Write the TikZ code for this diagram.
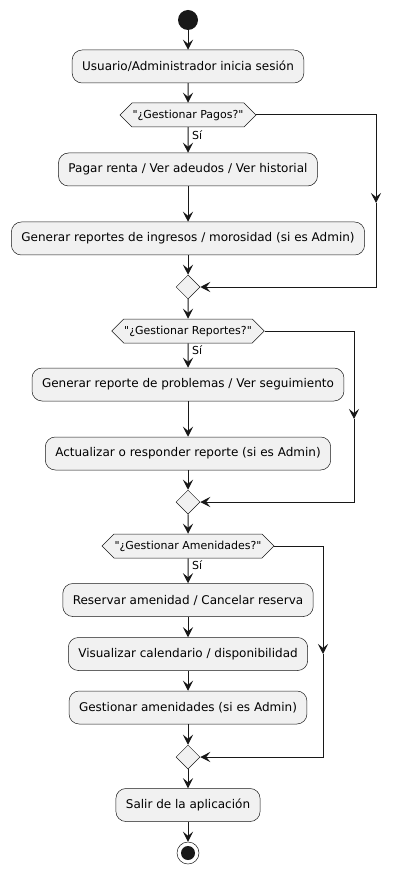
\documentclass[tikz,border=0pt]{standalone}
\usepackage{fontspec}
\newfontfamily\umlfont{DejaVu Sans}
\usetikzlibrary{arrows.meta,shapes.geometric,shapes.symbols}
\definecolor{linecol}{HTML}{181818}
\definecolor{boxfill}{HTML}{F1F1F1}

\begin{document}
\begin{tikzpicture}[x=1pt,y=1pt,
  action/.style={draw=linecol, fill=boxfill, rounded corners=10pt, line width=0.5pt, minimum height=33pt, inner xsep=10pt, font=\umlfont\fontsize{12}{14}\selectfont},
  choice/.style={signal, signal to=west and east, signal pointer angle=90, draw=linecol, fill=boxfill, line width=0.5pt, minimum height=24pt, inner xsep=0.5pt, font=\umlfont\fontsize{11}{13}\selectfont},
  merge/.style={diamond, draw=linecol, fill=boxfill, line width=0.5pt, minimum width=24pt, minimum height=24pt, inner sep=0pt},
  flow/.style={-{Stealth[length=10pt,width=10pt,inset=4pt]}, draw=linecol, line width=1pt},
  yes/.style={font=\umlfont\fontsize{11}{13}\selectfont, inner sep=0pt, anchor=west}
]
\useasboundingbox (0,0) rectangle (400,-874);

\node[circle, fill=linecol, minimum size=20pt, inner sep=0pt] (start) at (188,-20) {};
\node[action] (login) at (188,-66.5) {Usuario/Administrador inicia sesión};

% pagos
\node[choice] (pagos) at (188,-115) {"¿Gestionar Pagos?"};
\node[yes] (si1) at (192,-135) {Sí};
\node[action] (pagar) at (188,-169.5) {Pagar renta / Ver adeudos / Ver historial};
\node[action] (ingresos) at (188,-238.5) {Generar reportes de ingresos / morosidad (si es Admin)};
\node[merge] (m1) at (188,-287) {};
\coordinate (c1) at (376,-203);

% reportes
\node[choice] (reportes) at (188,-331) {"¿Gestionar Reportes?"};
\node[yes] (si2) at (192,-350) {Sí};
\node[action] (problemas) at (188,-384.5) {Generar reporte de problemas / Ver seguimiento};
\node[action] (responder) at (188,-453.5) {Actualizar o responder reporte (si es Admin)};
\node[merge] (m2) at (188,-502) {};
\coordinate (c2) at (354,-419);

% amenidades
\node[choice] (amenidades) at (188,-546) {"¿Gestionar Amenidades?"};
\node[yes] (si3) at (192,-565) {Sí};
\node[action] (reservar) at (188,-600) {Reservar amenidad / Cancelar reserva};
\node[action] (calendario) at (188,-654) {Visualizar calendario / disponibilidad};
\node[action] (gestionar) at (188,-707.5) {Gestionar amenidades (si es Admin)};
\node[merge] (m3) at (188,-757) {};
\coordinate (c3) at (323,-654);

\node[action] (salir) at (188,-805) {Salir de la aplicación};
\node[circle, draw=linecol, line width=0.5pt, fill=white, minimum size=22pt, inner sep=0pt] (stop) at (188,-853) {};
\node[circle, fill=linecol, minimum size=14pt, inner sep=0pt] at (stop) {};

\draw[flow] (start) -- (login);
\draw[flow] (login) -- (pagos);
\draw[flow] (pagos) -- (pagar);
\draw[flow] (pagar) -- (ingresos);
\draw[flow] (ingresos) -- (m1);
\draw[flow] (pagos.east) -| (c1);
\draw[flow] (c1) |- (m1.east);

\draw[flow] (m1) -- (reportes);
\draw[flow] (reportes) -- (problemas);
\draw[flow] (problemas) -- (responder);
\draw[flow] (responder) -- (m2);
\draw[flow] (reportes.east) -| (c2);
\draw[flow] (c2) |- (m2.east);

\draw[flow] (m2) -- (amenidades);
\draw[flow] (amenidades) -- (reservar);
\draw[flow] (reservar) -- (calendario);
\draw[flow] (calendario) -- (gestionar);
\draw[flow] (gestionar) -- (m3);
\draw[flow] (amenidades.east) -| (c3);
\draw[flow] (c3) |- (m3.east);

\draw[flow] (m3) -- (salir);
\draw[flow] (salir) -- (stop);

\end{tikzpicture}
\end{document}
